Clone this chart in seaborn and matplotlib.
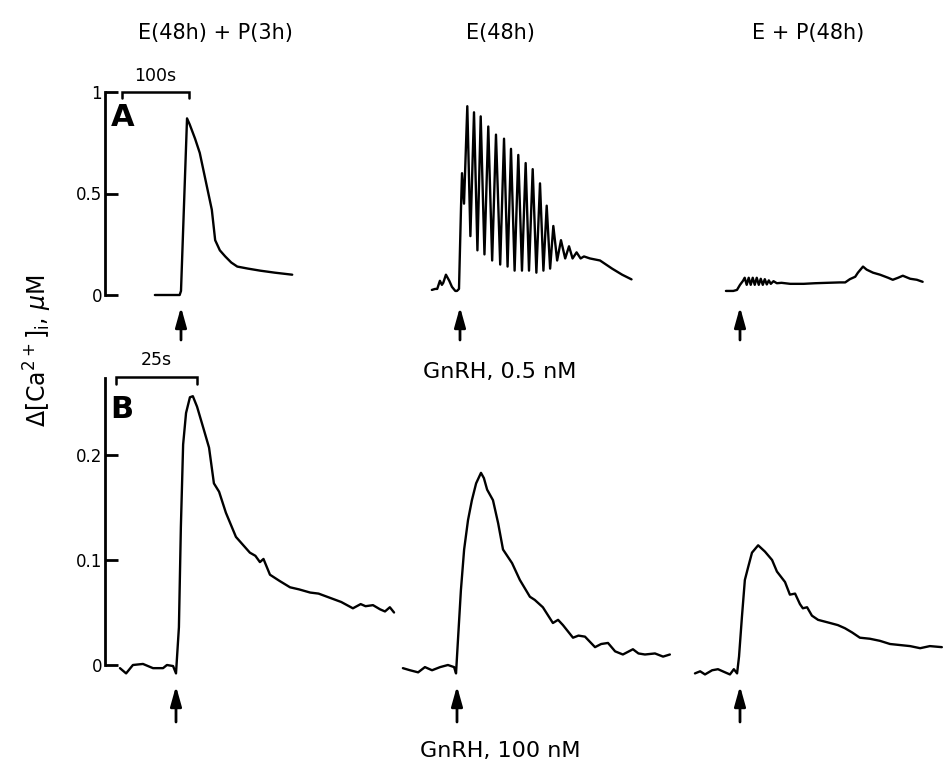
import numpy as np
import pandas as pd
import matplotlib
matplotlib.use("Agg")
import matplotlib.pyplot as plt
import seaborn as sns

# ---------------- data (time in s relative to GnRH addition, value in uM) ----------------
column_titles = ["E(48h) + P(3h)", "E(48h)", "E + P(48h)"]
row_letters = ["A", "B"]
stim_labels = ["GnRH, 0.5 nM", "GnRH, 100 nM"]

a1_t = [-39, -20, -2, 0, 9, 13, 21, 28, 37, 46, 51, 58, 66, 75, 84, 100, 118, 140, 166]
a1_v = [0.0, 0.0, 0.0, 0.02, 0.87, 0.84, 0.77, 0.70, 0.56, 0.42, 0.27, 0.22, 0.19, 0.16, 0.14, 0.13, 0.12, 0.11, 0.10]

a2_t = [-42, -37, -34, -30, -27, -25, -21, -16, -12, -7, -4.5, -1.5, 1.5, 3, 6, 10.9, 15.5, 20.9, 26,
        30.9, 36.5, 42.2, 48, 53.7, 60, 65.7, 71, 76.1, 81.5, 87, 92.5, 98, 103, 108.5, 114, 119.4,
        124.5, 129.4, 134.5, 139.3, 145, 150.7, 157, 162.7, 168, 174, 180, 185, 194, 209, 227, 242, 256]
a2_v = [0.025, 0.03, 0.03, 0.07, 0.05, 0.06, 0.10, 0.07, 0.04, 0.02, 0.02, 0.03, 0.43, 0.60, 0.45, 0.93, 0.29,
        0.90, 0.22, 0.88, 0.20, 0.83, 0.17, 0.79, 0.15, 0.77, 0.14, 0.72, 0.12, 0.69, 0.12, 0.65, 0.12, 0.62,
        0.11, 0.55, 0.12, 0.44, 0.13, 0.34, 0.17, 0.27, 0.18, 0.24, 0.18, 0.21, 0.18, 0.19, 0.18, 0.17, 0.13,
        0.10, 0.077]

a3_t = [-21, -10, -4.5, 0, 4.5, 7, 10, 13, 16, 19, 22, 25, 28, 31, 34, 37, 40, 43, 46, 50, 55, 62, 75, 95,
        112, 130, 149, 157, 164, 172, 176, 183.6, 189, 198.5, 209, 221, 228, 236, 243, 254, 264, 272.6]
a3_v = [0.02, 0.02, 0.025, 0.05, 0.07, 0.085, 0.05, 0.085, 0.05, 0.085, 0.05, 0.085, 0.05, 0.08, 0.05, 0.078,
        0.052, 0.072, 0.055, 0.068, 0.058, 0.06, 0.055, 0.055, 0.058, 0.06, 0.062, 0.062, 0.078, 0.09, 0.11,
        0.14, 0.125, 0.11, 0.10, 0.085, 0.075, 0.085, 0.095, 0.08, 0.075, 0.065]

b1_t = [-17.3, -15.4, -13.3, -10.2, -7.1, -4.0, -2.8, -0.9, 0, 0.9, 1.5, 2.2, 3.1, 4.3, 5.2, 6.5, 8.6, 10.2,
        11.7, 13.3, 15.4, 18.5, 20.5, 22.8, 24.5, 25.9, 27.0, 29, 32, 35.2, 38, 41.4, 44, 47.5, 51, 54.6, 57,
        58.5, 60.8, 63, 64.5, 66, 67.3]
b1_v = [-0.003, -0.008, 0.0, 0.001, -0.003, -0.003, 0.0, -0.001, -0.008, 0.036, 0.131, 0.21, 0.24, 0.255,
        0.256, 0.246, 0.224, 0.207, 0.173, 0.165, 0.145, 0.122, 0.115, 0.107, 0.104, 0.098, 0.101, 0.086,
        0.080, 0.074, 0.072, 0.069, 0.068, 0.064, 0.060, 0.054, 0.058, 0.056, 0.057, 0.053, 0.051, 0.055, 0.05]

b2_t = [-16.7, -14.5, -12, -9.9, -7.7, -5.2, -2.8, -0.9, -0.3, 0.3, 1.2, 2.2, 3.4, 4.6, 5.9, 7.4, 8.3, 9.3,
        11.1, 12.7, 14.2, 17, 19.4, 22.5, 24, 26.5, 29.6, 31.2, 32.7, 35.8, 37.5, 39.5, 42.6, 44.5, 46.6, 48.8,
        51.2, 54.3, 56, 58, 61.1, 63.6, 65.7]
b2_v = [-0.003, -0.005, -0.007, -0.002, -0.005, -0.002, 0.0, -0.002, -0.008, 0.024, 0.071, 0.11, 0.138,
        0.157, 0.173, 0.183, 0.178, 0.167, 0.157, 0.135, 0.11, 0.097, 0.081, 0.065, 0.062, 0.055, 0.04, 0.043,
        0.038, 0.026, 0.028, 0.027, 0.017, 0.020, 0.021, 0.013, 0.01, 0.015, 0.011, 0.01, 0.011, 0.008, 0.01]

b3_t = [-13.9, -12.3, -10.8, -8.6, -6.8, -4.6, -3.1, -1.9, -0.9, -0.3, 0.6, 1.5, 2.5, 3.7, 5.6, 7.7, 9.9,
        11.4, 13.9, 15.4, 17, 18.5, 19.4, 20.7, 22.2, 24.1, 27.8, 30.2, 32.4, 34.6, 37, 40.1, 43.2, 46.3,
        49.4, 52.5, 55.6, 58.6, 62.3]
b3_v = [-0.008, -0.006, -0.009, -0.005, -0.004, -0.007, -0.009, -0.004, -0.008, 0.008, 0.046, 0.081, 0.093,
        0.107, 0.114, 0.108, 0.1, 0.089, 0.079, 0.067, 0.068, 0.058, 0.054, 0.055, 0.047, 0.043, 0.04, 0.038,
        0.035, 0.031, 0.026, 0.025, 0.023, 0.02, 0.019, 0.018, 0.016, 0.018, 0.017]

a_ticks = [0, 0.5, 1]
a_ticklabels = ["0", "0.5", "1"]
b_ticks = [0, 0.1, 0.2]
b_ticklabels = ["0", "0.1", "0.2"]
scalebar_a_s = 100
scalebar_b_s = 25
ylabel = r"$\Delta$[Ca$^{2+}$]$_{\mathregular{i}}$, $\mu$M"

traces = {
    ("A", 0): (a1_t, a1_v), ("A", 1): (a2_t, a2_v), ("A", 2): (a3_t, a3_v),
    ("B", 0): (b1_t, b1_v), ("B", 1): (b2_t, b2_v), ("B", 2): (b3_t, b3_v),
}

# ---------------- layout (pixels) ----------------
W, H = 944, 766
sns.set_theme(style="white")
plt.rcParams["font.family"] = ["DejaVu Sans"]
fig = plt.figure(figsize=(W / 100, H / 100), dpi=100)
fig.patch.set_facecolor("white")

col_x = [(105, 400), (400, 680), (680, 944)]
arrow_x = {"A": [181, 460, 740], "B": [176, 457, 740]}
row_cfg = {
    # top_px, bottom_px, zero_px, px_per_unit, px_per_s
    "A": dict(top=60, bottom=320, zero=295, ppu=203, pps=0.67),
    "B": dict(top=360, bottom=680, zero=665, ppu=1050, pps=3.24),
}

axes = {}
for row, cfg in row_cfg.items():
    for ci, (x0, x1) in enumerate(col_x):
        ax = fig.add_axes([x0 / W, 1 - cfg["bottom"] / H, (x1 - x0) / W, (cfg["bottom"] - cfg["top"]) / H])
        ax.set_facecolor("none")
        ax_arrow = arrow_x[row][ci]
        ax.set_xlim((x0 - ax_arrow) / cfg["pps"], (x1 - ax_arrow) / cfg["pps"])
        ax.set_ylim((cfg["zero"] - cfg["bottom"]) / cfg["ppu"], (cfg["zero"] - cfg["top"]) / cfg["ppu"])
        t, v = traces[(row, ci)]
        df = pd.DataFrame({"t": t, "v": v})
        sns.lineplot(data=df, x="t", y="v", ax=ax, color="black", linewidth=1.7,
                     estimator=None, sort=False, legend=False)
        ax.set_xlabel("")
        ax.set_ylabel("")
        ax.set_xticks([])
        for s in ["top", "right", "bottom"]:
            ax.spines[s].set_visible(False)
        if ci == 0:
            ax.spines["left"].set_visible(True)
            ax.spines["left"].set_color("black")
            ax.spines["left"].set_linewidth(2.0)
            ax.tick_params(axis="y", direction="in", length=9, width=2.0, left=True,
                           labelsize=12, pad=2, colors="black")
            if row == "A":
                ax.set_yticks(a_ticks)
                ax.set_yticklabels(a_ticklabels)
                ax.spines["left"].set_bounds(0, 1)
            else:
                ax.set_yticks(b_ticks)
                ax.set_yticklabels(b_ticklabels)
                ax.spines["left"].set_bounds(0, (cfg["zero"] - 378) / cfg["ppu"])
        else:
            ax.spines["left"].set_visible(False)
            ax.set_yticks([])
        axes[(row, ci)] = ax

# ---------------- scale bars ----------------
def scalebar(ax, t_start, length, y_top, y_drop, label, fs):
    ax.plot([t_start, t_start, t_start + length, t_start + length],
            [y_top - y_drop, y_top, y_top, y_top - y_drop],
            color="black", lw=1.8, clip_on=False, solid_joinstyle="miter")
    ax.text(t_start + length / 2, y_top + y_drop * 1.2, label, ha="center", va="bottom",
            fontsize=fs, color="black", clip_on=False)

cfgA, cfgB = row_cfg["A"], row_cfg["B"]
scalebar(axes[("A", 0)], (122 - 181) / cfgA["pps"], scalebar_a_s,
         (cfgA["zero"] - 92) / cfgA["ppu"], 6 / cfgA["ppu"], f"{scalebar_a_s}s", 12.5)
scalebar(axes[("B", 0)], (116 - 176) / cfgB["pps"], scalebar_b_s,
         (cfgB["zero"] - 377) / cfgB["ppu"], 7 / cfgB["ppu"], f"{scalebar_b_s}s", 12.5)

# ---------------- stimulus arrows ----------------
arrow_rows = {"A": (307, 340), "B": (686, 722)}
for row, (tip, base) in arrow_rows.items():
    for ci in range(3):
        ax = axes[(row, ci)]
        ax.annotate("", xy=(0, H - tip), xycoords=("data", "figure pixels"),
                    xytext=(0, H - base), textcoords=("data", "figure pixels"),
                    arrowprops=dict(arrowstyle="-|>,head_length=1.0,head_width=0.28",
                                    color="black", lw=2.0, shrinkA=0, shrinkB=0))

# ---------------- texts ----------------
title_x = [215, 500, 808]
for x, t in zip(title_x, column_titles):
    fig.text(x / W, 1 - 33 / H, t, ha="center", va="center", fontsize=15, color="black")

fig.text(123 / W, 1 - 118 / H, row_letters[0], ha="center", va="center", fontsize=22,
         fontweight="bold", color="black")
fig.text(122 / W, 1 - 410 / H, row_letters[1], ha="center", va="center", fontsize=22,
         fontweight="bold", color="black")

fig.text(500 / W, 1 - 372 / H, stim_labels[0], ha="center", va="center", fontsize=16, color="black")
fig.text(500 / W, 1 - 751 / H, stim_labels[1], ha="center", va="center", fontsize=16, color="black")

fig.text(38 / W, 1 - 350 / H, ylabel, ha="center", va="center", rotation=90, fontsize=17,
         color="black")

fig.savefig("out.png", dpi=100, facecolor="white")
